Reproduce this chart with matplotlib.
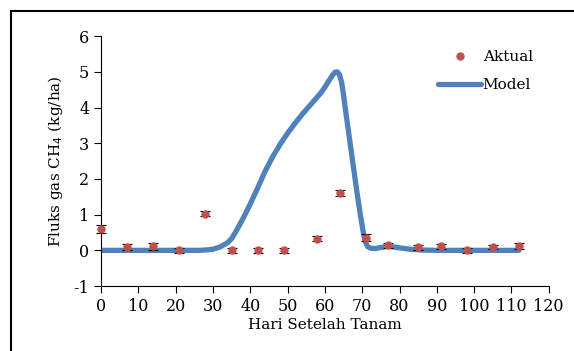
import matplotlib.pyplot as plt
from matplotlib.patches import Rectangle
from matplotlib.lines import Line2D

# data
hari = [0, 7, 14, 21, 28, 35, 42, 49, 58, 64, 71, 77, 85, 91, 98, 105, 112]
aktual = [0.60, 0.10, 0.12, 0.00, 1.03, 0.00, 0.00, 0.00, 0.33, 1.60, 0.35, 0.14, 0.09, 0.11, 0.00, 0.09, 0.13]
galat = [0.10, 0.08, 0.10, 0.08, 0.08, 0.08, 0.08, 0.08, 0.07, 0.08, 0.10, 0.06, 0.07, 0.07, 0.08, 0.06, 0.08]

model_x = [0, 10, 20, 26, 28, 30, 32, 34, 35, 36, 38, 40, 42, 44, 46, 48, 50, 52, 54, 56, 58, 59, 60, 61, 62,
           62.7, 63.3, 63.9, 64.5, 65, 65.5, 66.5, 67.5, 68.5, 69.5, 70.3, 70.9, 71.5, 72.3, 73.5, 75, 76.5,
           78, 80, 83, 86, 90, 100, 112]
model_y = [0.0, 0.0, 0.0, 0.0, 0.01, 0.03, 0.1, 0.22, 0.33, 0.5, 0.88, 1.3, 1.75, 2.22, 2.62, 2.97, 3.28, 3.56, 3.82, 4.06, 4.3, 4.42, 4.57, 4.74, 4.9,
           4.99, 5.0, 4.93, 4.7, 4.35, 3.95, 3.2, 2.45, 1.7, 1.0, 0.5, 0.22, 0.1, 0.06, 0.05, 0.08, 0.11,
           0.1, 0.07, 0.03, 0.01, 0.0, 0.0, 0.0]

plt.rcParams['font.family'] = ['DejaVu Serif']
plt.rcParams['axes.unicode_minus'] = False

fig = plt.figure(figsize=(5.74, 3.51), dpi=100)
ax = fig.add_axes([0.176, 0.185, 0.78, 0.712])

ax.plot(model_x, model_y, color='#4F81BD', linewidth=3.8, solid_capstyle='round',
        solid_joinstyle='round', zorder=2)
eb = ax.errorbar(hari, aktual, yerr=galat, fmt='o', color='#C0504D', markersize=5,
                 ecolor='black', elinewidth=0.8, capsize=3.5, capthick=0.8, zorder=3)
for art in eb.get_children():
    art.set_clip_on(False)

ax.set_xlim(0, 120)
ax.set_ylim(-1, 6)
ax.set_xticks(range(0, 121, 10))
ax.set_yticks(range(-1, 7))
ax.spines['top'].set_visible(False)
ax.spines['right'].set_visible(False)
ax.tick_params(labelsize=11.5, length=5, direction='out')
ax.set_xlabel('Hari Setelah Tanam', fontsize=11, labelpad=2)
ax.set_ylabel('Fluks gas CH$_4$ (kg/ha)', fontsize=11, labelpad=6)

handles = [Line2D([], [], linestyle='none', marker='o', color='#C0504D', markersize=5),
           Line2D([], [], color='#4F81BD', linewidth=3.8, solid_capstyle='round')]
ax.legend(handles, ['Aktual', 'Model'], loc='upper right', bbox_to_anchor=(0.985, 0.98),
          frameon=False, fontsize=11, handlelength=2.8, handletextpad=0.1,
          labelspacing=0.9, borderaxespad=0.2)

fig.patches.append(Rectangle((11 / 574, -0.1), 1.2, 1 - 11 / 351 + 0.1, transform=fig.transFigure,
                             fill=False, edgecolor='black', linewidth=1.5))

fig.savefig('out.png', dpi=100)
